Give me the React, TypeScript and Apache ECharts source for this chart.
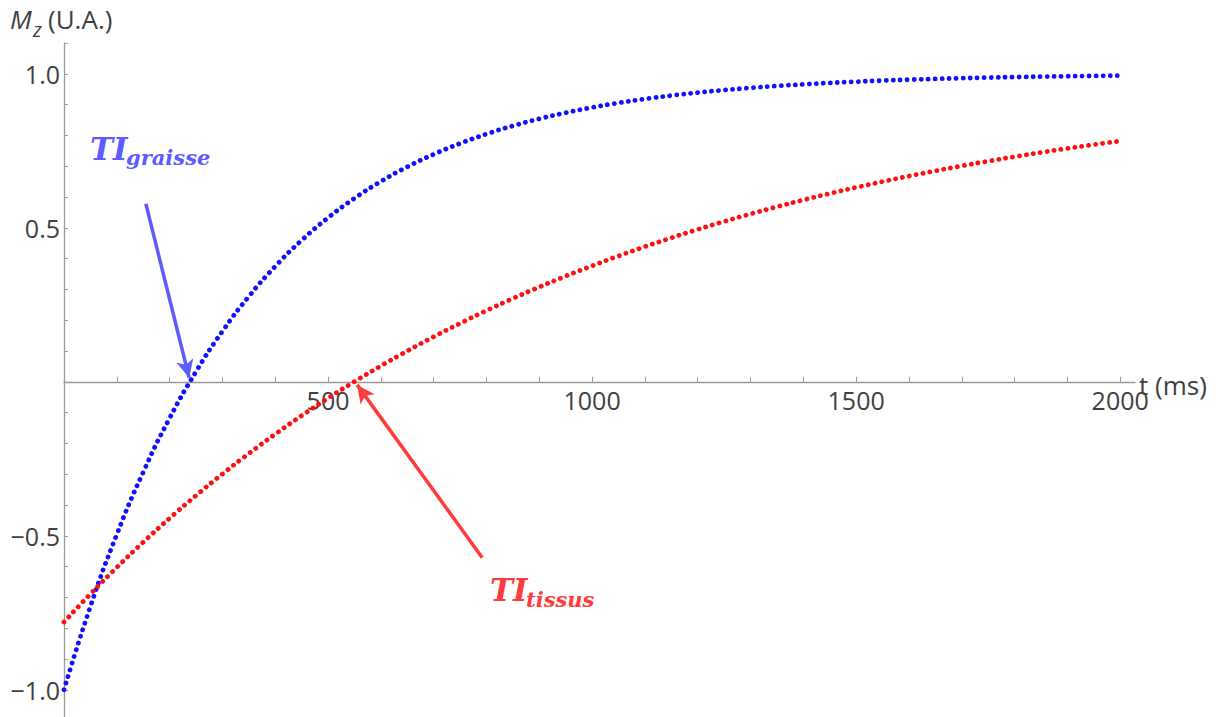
import React, { useEffect, useRef } from "react";
import * as echarts from "echarts";

// time samples (ms)
const times = [
  0, 50, 100, 150, 200, 250, 300, 350, 400, 450, 500, 550, 600, 650, 700, 750, 800, 850, 900, 950,
  1000, 1050, 1100, 1150, 1200, 1250, 1300, 1350, 1400, 1450, 1500, 1550, 1600, 1650, 1700, 1750,
  1800, 1850, 1900, 1950, 2000,
];

// Mz of fat (graisse), blue curve
const graisse = [
  -1.0, -0.7294, -0.4955, -0.2932, -0.1182, 0.0331, 0.1639, 0.277, 0.3748, 0.4594, 0.5325, 0.5957,
  0.6504, 0.6977, 0.7386, 0.774, 0.8046, 0.831, 0.8539, 0.8736, 0.8907, 0.9055, 0.9183, 0.9293,
  0.9389, 0.9472, 0.9543, 0.9605, 0.9658, 0.9705, 0.9745, 0.9779, 0.9809, 0.9835, 0.9857, 0.9877,
  0.9893, 0.9908, 0.992, 0.9931, 0.994,
];

// Mz of tissue (tissus), red curve
const tissus = [
  -0.78, -0.689, -0.6027, -0.5208, -0.443, -0.3693, -0.2993, -0.2329, -0.1699, -0.11, -0.0533, 0.0005,
  0.0516, 0.1001, 0.1461, 0.1897, 0.2312, 0.2705, 0.3078, 0.3431, 0.3767, 0.4086, 0.4388, 0.4675,
  0.4947, 0.5205, 0.545, 0.5683, 0.5904, 0.6113, 0.6312, 0.65, 0.6679, 0.6849, 0.701, 0.7163, 0.7308,
  0.7446, 0.7576, 0.77, 0.7818,
];

// annotation arrows: [start, tip] in data coordinates
const arrowGraisse = [[155, 0.578], [237, 0.013]];
const arrowTissus = [[792, -0.571], [555, -0.01]];

const xLabelStep = 500;
const yLabelStep = 0.5;

const AXIS_COLOR = "#9a9a9a";
const TEXT_COLOR = "#404040";
const BLUE = "#1010ff";
const RED = "#ff1010";
const ARROW_BLUE = "#5c5cff";
const ARROW_RED = "#ff3b3b";

const Y_MIN = -1.1;
const Y_MAX = 1.1;
const GRID_TOP = 43;
const GRID_H = 677.6;

export default function App() {
  const ref = useRef<HTMLDivElement>(null);

  useEffect(() => {
    if (!ref.current) return;
    const chart = echarts.init(ref.current, undefined, { renderer: "svg" });

    const dotted = (color: string) => ({
      color,
      width: 4.8,
      type: [0.1, 6.9],
      cap: "round",
    });

    const arrowMark = (pts: number[][], color: string) => ({
      silent: true,
      animation: false,
      symbol: ["none", "arrow"],
      symbolSize: [13, 18],
      label: { show: false },
      lineStyle: { color, width: 3.5, type: "solid" },
      data: [[{ coord: pts[0] }, { coord: pts[1] }]],
    });

    // the x axis sits on y = 0: shift it up from the grid bottom
    const xOffset = -(GRID_H * (0 - Y_MIN)) / (Y_MAX - Y_MIN);

    const option: any = {
      animation: false,
      backgroundColor: "#ffffff",
      grid: { left: 64, right: 88, top: GRID_TOP, height: GRID_H, outerBoundsMode: "none", containLabel: false },
      xAxis: {
        type: "value",
        min: 0,
        max: 2028,
        interval: 100,
        position: "bottom",
        offset: xOffset,
        axisLine: { onZero: false, lineStyle: { color: AXIS_COLOR, width: 1.3 } },
        axisTick: { inside: true, length: 5, lineStyle: { color: AXIS_COLOR } },
        splitLine: { show: false },
        axisLabel: {
          fontFamily: "Open Sans",
          fontSize: 25,
          color: TEXT_COLOR,
          margin: 6,
          showMaxLabel: false,
          formatter: (v: number) => {
            const n = Math.round(v);
            return n > 0 && n % xLabelStep === 0 ? String(n) : "";
          },
        },
      },
      yAxis: {
        type: "value",
        min: Y_MIN,
        max: Y_MAX,
        interval: 0.1,
        axisLine: { onZero: false, lineStyle: { color: AXIS_COLOR, width: 1.3 } },
        axisTick: { inside: true, length: 4, lineStyle: { color: AXIS_COLOR } },
        splitLine: { show: false },
        axisLabel: {
          fontFamily: "Open Sans",
          fontSize: 25,
          color: TEXT_COLOR,
          margin: 4,
          formatter: (v: number) => {
            const n = Math.round(v * 10);
            const step = Math.round(yLabelStep * 10);
            if (n === 0 || n % step !== 0 || Math.abs(n) > 10) return "";
            return (n / 10).toFixed(1).replace("-", "\u2212");
          },
        },
      },
      series: [
        {
          type: "line",
          data: times.map((t, i) => [t, graisse[i]]),
          showSymbol: false,
          smooth: true,
          lineStyle: dotted(BLUE),
          markLine: arrowMark(arrowGraisse, ARROW_BLUE),
          z: 2,
        },
        {
          type: "line",
          data: times.map((t, i) => [t, tissus[i]]),
          showSymbol: false,
          smooth: true,
          lineStyle: dotted(RED),
          markLine: arrowMark(arrowTissus, ARROW_RED),
          z: 3,
        },
      ],
      graphic: [
        // x axis name
        {
          type: "text",
          x: 1139,
          y: 385,
          style: {
            text: "t (ms)",
            font: "26px 'Open Sans'",
            fill: TEXT_COLOR,
            verticalAlign: "middle",
          },
        },
        // y axis name M_z (U.A.)
        {
          type: "text",
          left: 10,
          top: 6,
          style: {
            text: "M",
            font: "italic 26px 'Open Sans'",
            fill: TEXT_COLOR,
          },
        },
        {
          type: "text",
          left: 33,
          top: 19,
          style: {
            text: "z",
            font: "italic 20px 'Open Sans'",
            fill: TEXT_COLOR,
          },
        },
        {
          type: "text",
          left: 48,
          top: 6,
          style: {
            text: "(U.A.)",
            font: "26px 'Open Sans'",
            fill: TEXT_COLOR,
          },
        },
        // TI graisse
        {
          type: "text",
          x: 90,
          y: 149,
          style: {
            text: "TI",
            font: "italic bold 31px 'DejaVu Serif'",
            fill: ARROW_BLUE,
            verticalAlign: "middle",
          },
        },
        {
          type: "text",
          x: 126,
          y: 157,
          style: {
            text: "graisse",
            font: "italic bold 21px 'DejaVu Serif'",
            fill: ARROW_BLUE,
            verticalAlign: "middle",
          },
        },
        // TI tissus
        {
          type: "text",
          x: 490,
          y: 590,
          style: {
            text: "TI",
            font: "italic bold 31px 'DejaVu Serif'",
            fill: ARROW_RED,
            verticalAlign: "middle",
          },
        },
        {
          type: "text",
          x: 526,
          y: 599,
          style: {
            text: "tissus",
            font: "italic bold 21px 'DejaVu Serif'",
            fill: ARROW_RED,
            verticalAlign: "middle",
          },
        },
      ],
    };

    chart.setOption(option);
    return () => chart.dispose();
  }, []);

  return (
    <div
      ref={ref}
      style={{ position: "absolute", left: 0, top: 0, width: 1223, height: 717, background: "#fff" }}
    />
  );
}
